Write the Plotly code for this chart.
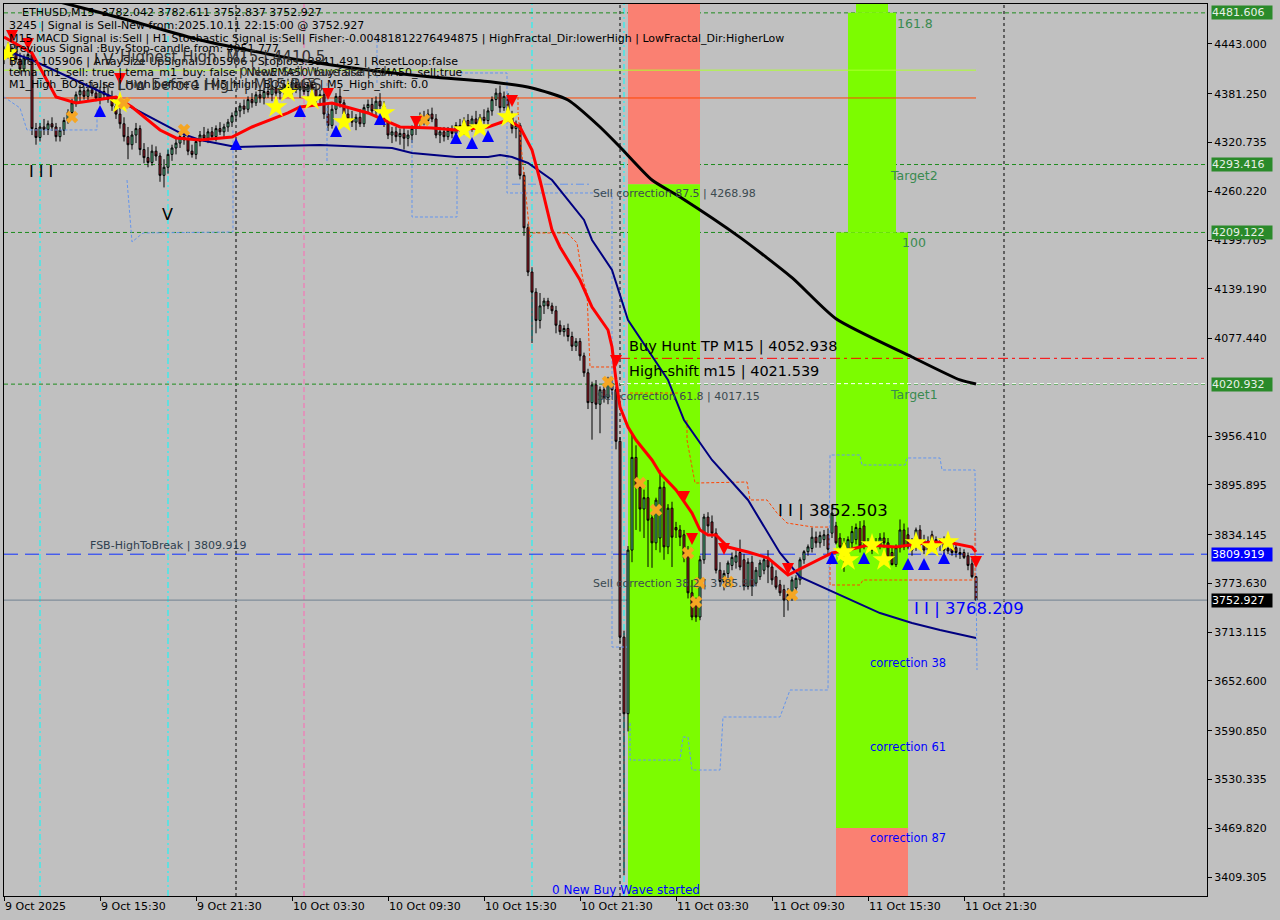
import pandas as pd
import plotly.graph_objects as go

# ---------------- data ----------------
T0 = pd.Timestamp("2025-10-09 09:30")   # first M15 bar on screen
STEP = pd.Timedelta(minutes=15)


def T(i):
    return (T0 + STEP * i).strftime("%Y-%m-%d %H:%M:%S")


opens = [4425, 4432, 4428, 4436, 4424, 4412, 4426, 4430, 4338, 4327,
         4340, 4337, 4344, 4340, 4328, 4336, 4348, 4358, 4370, 4380,
         4385, 4378, 4386, 4382, 4376, 4384, 4380, 4374, 4366, 4356,
         4344, 4328, 4318, 4330, 4338, 4312, 4302, 4296, 4310, 4304,
         4280, 4290, 4306, 4314, 4320, 4328, 4324, 4310, 4306, 4322,
         4330, 4326, 4334, 4328, 4338, 4334, 4340, 4346, 4354, 4360,
         4366, 4362, 4374, 4370, 4380, 4376, 4384, 4380, 4388, 4382,
         4386, 4392, 4388, 4394, 4386, 4390, 4384, 4392, 4386, 4376,
         4380, 4356, 4342, 4362, 4378, 4370, 4356, 4350, 4346, 4352,
         4344, 4364, 4368, 4360, 4372, 4366, 4346, 4330, 4334, 4328,
         4332, 4326, 4330, 4338, 4344, 4352, 4348, 4356, 4350, 4330,
         4334, 4328, 4336, 4332, 4342, 4338, 4348, 4340, 4350, 4344,
         4352, 4348, 4360, 4374, 4382, 4364, 4378, 4356, 4338, 4342,
         4280, 4215, 4160, 4135, 4100, 4118, 4124, 4118, 4112, 4094,
         4086, 4090, 4080, 4068, 4074, 4056, 4035, 3998, 4020, 3996,
         4014, 4004, 4022, 4014, 3950, 3707, 3612, 3815, 3930, 3893,
         3866, 3880, 3855, 3824, 3830, 3893, 3819, 3867, 3843, 3840,
         3834, 3813, 3762, 3748, 3732, 3803, 3856, 3850, 3836, 3790,
         3776, 3786, 3796, 3800, 3812, 3803, 3770, 3800, 3774, 3782,
         3790, 3803, 3794, 3782, 3772, 3766, 3753, 3760, 3768, 3778,
         3803, 3813, 3817, 3831, 3824, 3828, 3834, 3836, 3845, 3830,
         3824, 3810, 3824, 3828, 3842, 3845, 3824, 3826, 3822, 3821,
         3830, 3824, 3812, 3797, 3818, 3840, 3834, 3815, 3820, 3840,
         3828, 3826, 3834, 3818, 3822, 3826, 3817, 3821, 3818, 3812,
         3812, 3808, 3798, 3782.042]
highs = [4440, 4445, 4440, 4446, 4432, 4430, 4438, 4434, 4345, 4345,
         4350, 4348, 4352, 4345, 4340, 4352, 4362, 4375, 4384, 4392,
         4390, 4390, 4395, 4390, 4390, 4396, 4392, 4385, 4372, 4364,
         4352, 4340, 4335, 4345, 4342, 4320, 4315, 4318, 4316, 4308,
         4300, 4312, 4318, 4326, 4332, 4336, 4330, 4318, 4326, 4335,
         4340, 4338, 4340, 4342, 4346, 4344, 4350, 4358, 4364, 4370,
         4374, 4378, 4382, 4384, 4390, 4388, 4394, 4392, 4396, 4392,
         4398, 4400, 4398, 4400, 4396, 4398, 4395, 4398, 4392, 4386,
         4386, 4370, 4368, 4382, 4388, 4374, 4366, 4360, 4356, 4362,
         4368, 4374, 4376, 4378, 4382, 4372, 4352, 4340, 4340, 4338,
         4340, 4336, 4342, 4350, 4358, 4360, 4362, 4364, 4356, 4340,
         4340, 4340, 4342, 4346, 4350, 4352, 4356, 4354, 4360, 4356,
         4362, 4364, 4378, 4388, 4391.46, 4384, 4382, 4360, 4348, 4345,
         4284, 4220, 4166, 4140, 4134, 4128, 4128, 4122, 4118, 4100,
         4094, 4096, 4086, 4078, 4078, 4060, 4040, 4024, 4026, 4018,
         4022, 4030, 4030, 4018, 3955, 3715, 3820, 3960, 3945, 3900,
         3890, 3902, 3862, 3880, 3914, 3900, 3872, 3875, 3850, 3846,
         3840, 3820, 3778, 3756, 3808, 3860, 3862, 3858, 3842, 3800,
         3790, 3802, 3812, 3815, 3828, 3810, 3805, 3808, 3794, 3803,
         3808, 3815, 3800, 3790, 3778, 3772, 3768, 3782, 3784, 3806,
         3815, 3822, 3843, 3838, 3838, 3840, 3842, 3871, 3850, 3836,
         3830, 3832, 3845, 3848, 3851, 3852, 3830, 3832, 3830, 3836,
         3837, 3830, 3818, 3822, 3853, 3848, 3843, 3830, 3843, 3846,
         3834, 3832, 3839, 3832, 3830, 3832, 3824, 3826, 3822, 3818,
         3816, 3812, 3804, 3782.611]
lows = [4418, 4425, 4415, 4420, 4405, 4408, 4418, 4330, 4318, 4322,
        4330, 4330, 4335, 4322, 4322, 4330, 4344, 4354, 4365, 4372,
        4374, 4372, 4378, 4372, 4368, 4375, 4370, 4360, 4350, 4338,
        4322, 4300, 4312, 4320, 4305, 4295, 4290, 4292, 4298, 4272,
        4265, 4282, 4298, 4306, 4314, 4318, 4305, 4302, 4300, 4316,
        4322, 4320, 4324, 4322, 4330, 4326, 4334, 4340, 4348, 4352,
        4356, 4358, 4364, 4366, 4370, 4368, 4376, 4372, 4378, 4374,
        4380, 4384, 4380, 4382, 4376, 4380, 4376, 4382, 4370, 4366,
        4350, 4335, 4338, 4356, 4364, 4350, 4345, 4340, 4336, 4340,
        4340, 4356, 4356, 4354, 4362, 4340, 4325, 4320, 4322, 4318,
        4312, 4316, 4320, 4330, 4338, 4342, 4344, 4346, 4326, 4320,
        4322, 4324, 4326, 4328, 4334, 4330, 4336, 4334, 4340, 4338,
        4344, 4342, 4354, 4366, 4358, 4360, 4350, 4332, 4326, 4275,
        4205, 4155, 4072, 4084, 4090, 4108, 4114, 4108, 4084, 4082,
        4080, 4074, 4062, 4062, 4050, 4030, 3990, 3952, 3990, 3960,
        3998, 3996, 4008, 3940, 3700, 3411.58, 3590, 3800, 3840, 3838,
        3830, 3794, 3793, 3815, 3812, 3803, 3810, 3794, 3830, 3820,
        3800, 3755, 3728, 3726, 3728, 3798, 3836, 3830, 3786, 3770,
        3765, 3780, 3790, 3792, 3790, 3765, 3766, 3758, 3770, 3778,
        3785, 3774, 3772, 3766, 3758, 3732, 3740, 3752, 3762, 3772,
        3798, 3808, 3812, 3818, 3818, 3820, 3808, 3830, 3822, 3812,
        3788, 3804, 3818, 3822, 3812, 3816, 3814, 3810, 3814, 3816,
        3818, 3804, 3796, 3794, 3812, 3815, 3816, 3808, 3814, 3818,
        3810, 3812, 3814, 3812, 3814, 3810, 3810, 3808, 3806, 3804,
        3804, 3790, 3780, 3752.837]
closes = [4432, 4428, 4436, 4424, 4412, 4426, 4430, 4338, 4327, 4340,
          4337, 4344, 4340, 4328, 4336, 4348, 4358, 4370, 4380, 4385,
          4378, 4386, 4382, 4376, 4384, 4380, 4374, 4366, 4356, 4344,
          4328, 4318, 4330, 4338, 4312, 4302, 4296, 4310, 4304, 4280,
          4290, 4306, 4314, 4320, 4328, 4324, 4310, 4306, 4322, 4330,
          4326, 4334, 4328, 4338, 4334, 4340, 4346, 4354, 4360, 4366,
          4362, 4374, 4370, 4380, 4376, 4384, 4380, 4388, 4382, 4386,
          4392, 4388, 4394, 4386, 4390, 4384, 4392, 4386, 4376, 4380,
          4356, 4342, 4362, 4378, 4370, 4356, 4350, 4346, 4352, 4344,
          4364, 4368, 4360, 4372, 4366, 4346, 4330, 4334, 4328, 4332,
          4326, 4330, 4338, 4344, 4352, 4348, 4356, 4350, 4330, 4334,
          4328, 4336, 4332, 4342, 4338, 4348, 4340, 4350, 4344, 4352,
          4348, 4360, 4374, 4382, 4364, 4378, 4356, 4338, 4342, 4280,
          4215, 4160, 4135, 4100, 4118, 4124, 4118, 4112, 4094, 4086,
          4090, 4080, 4068, 4074, 4056, 4035, 3998, 4020, 3996, 4014,
          4004, 4022, 4014, 3950, 3707, 3612, 3815, 3930, 3893, 3866,
          3880, 3852, 3824, 3877, 3893, 3819, 3867, 3831, 3840, 3831,
          3806, 3762, 3732, 3732, 3803, 3856, 3845, 3836, 3790, 3776,
          3786, 3799, 3806, 3808, 3794, 3770, 3800, 3770, 3790, 3799,
          3803, 3794, 3778, 3769, 3762, 3753, 3760, 3778, 3780, 3803,
          3813, 3819, 3831, 3824, 3833, 3834, 3816, 3861, 3824, 3819,
          3803, 3828, 3838, 3843, 3820, 3824, 3820, 3815, 3819, 3830,
          3824, 3806, 3797, 3818, 3840, 3819, 3819, 3827, 3840, 3824,
          3815, 3815, 3819, 3828, 3826, 3815, 3814, 3812, 3812, 3810,
          3806, 3796, 3782.04, 3752.927]

# moving averages read at sample bars (bar number, price)
ema200_bar = [0, 12, 31, 49, 74, 91, 107, 122, 132, 141, 149, 154, 162, 169, 184, 197, 208, 227, 239, 243]
ema200_val = [4513.7, 4497.6, 4472.8, 4448.0, 4423.1, 4410.7, 4402.0, 4395.8, 4388.4, 4373.5,
              4340.0, 4315.2, 4274.2, 4253.1, 4203.0, 4153.0, 4102.0, 4054.6, 4026.1, 4021.1]
ema100_bar = [0, 7, 27, 44, 49, 58, 79, 97, 102, 113, 121, 124, 127, 131, 137, 145, 147, 152,
              156, 166, 170, 177, 186, 194, 199, 208, 219, 227, 234, 243]
ema100_val = [4435.6, 4423.1, 4377.2, 4332.6, 4323.9, 4315.2, 4317.7, 4313.9, 4307.7, 4302.8,
              4302.8, 4305.3, 4302.8, 4295.3, 4274.2, 4224.6, 4199.8, 4162.6, 4100.5, 4026.1,
              3976.4, 3926.8, 3877.2, 3811.4, 3781.6, 3761.8, 3736.9, 3724.5, 3715.8, 3705.9]
fast_bar = [0, 7, 13, 18, 23, 28, 32, 39, 43, 49, 57, 62, 71, 74, 82, 91, 99, 107, 113, 121,
            126, 129, 132, 134, 137, 139, 144, 147, 151, 152, 153, 154, 156, 158, 162, 164, 168,
            172, 174, 176, 178, 181, 186, 191, 196, 202, 207, 211, 216, 223, 227, 232, 237, 242, 243]
fast_val = [4451.7, 4431.8, 4377.2, 4369.8, 4373.5, 4377.2, 4364.8, 4336.3, 4326.4, 4323.9,
            4327.6, 4340.0, 4357.4, 4364.8, 4369.8, 4357.4, 4340.0, 4338.8, 4336.3, 4340.0,
            4348.7, 4340.0, 4311.5, 4274.2, 4212.2, 4191.1, 4150.1, 4116.6, 4088.1, 4067.0,
            4026.1, 3992.6, 3967.7, 3951.6, 3926.8, 3910.7, 3889.6, 3861.0, 3839.9, 3833.7,
            3833.7, 3818.8, 3812.6, 3805.2, 3784.1, 3799.0, 3811.4, 3815.1, 3821.3, 3818.8,
            3821.3, 3825.0, 3823.8, 3818.8, 3812.6]

# channel envelopes (bar number, price); None = gap
blue_env_bar = [0, 4, 5.75, 23.25, 23.25, None, 30.75, 32, 34.75, 57.25, 57.25, None,
                80.75, 80.75, None, 93.25, 93.25, None, 102, 102, 113.25, 113.25, None,
                114, 125.75, 125.75, 152, 152, 155.75, None,
                156.5, 156.5, 169, 169.75, 171, 172, 179, 179.75, 194, 196.5, 206, 206.5,
                214, 214.5, 225.25, 225.75, 234, 234.5, 242.75, 243.25]
blue_env_val = [4377.2, 4363.6, 4336.3, 4336.3, 4363.6, None, 4274.2, 4197.3, 4208.5, 4209.7, 4336.3, None,
                4394.6, 4295.3, None, 4448.0, 4394.6, None, 4323.9, 4228.3, 4228.3, 4290.4, None,
                4407.0, 4407.0, 4258.1, 4258.1, 3694.7, 3694.7, None,
                3600.4, 3554.5, 3554.5, 3583.0, 3583.0, 3542.1, 3542.1, 3607.9, 3607.9, 3641.4, 3641.4, 3933.0,
                3933.0, 3920.6, 3920.6, 3929.3, 3929.3, 3914.4, 3914.4, 3666.2]
orange_env_bar = [127.25, 128.5, 128.5, 131.5, 132.25, 140.75, 143.25, 144.75, 145.75, 146.5, 152.25, None,
                  156.5, 169, None,
                  170.75, 170.75, 172.75, 185.75, 186.5, 190.75, 193.25, 195.75, 202.25, 206.5, None,
                  206.5, 206.5, 214, 214.75, 242.75, 242.75]
orange_env_val = [4377.2, 4377.2, 4357.4, 4203.5, 4208.5, 4208.5, 4196.1, 4150.1, 4134.0, 4042.2, 4042.2, None,
                  4009.9, 4009.9, None,
                  3976.4, 3951.6, 3898.2, 3899.5, 3877.2, 3877.2, 3861.0, 3848.6, 3843.6, 3843.6, None,
                  3806.4, 3771.7, 3771.7, 3777.9, 3777.9, 3839.9]

# signal marks (bar number, price)
star_bar = [1, 29, 68, 71, 77, 85, 95, 115, 119, 126, 210, 211, 217, 220, 228, 232, 236]
star_val = [4431.8, 4369.8, 4364.8, 4383.4, 4373.5, 4346.2, 4357.4, 4336.3, 4338.8, 4352.4,
            3812.6, 3802.7, 3821.3, 3802.7, 3823.8, 3818.8, 3825.0]
cross_bar = [17, 30, 45, 105, 151, 159, 163, 171, 174, 173, 181, 197]
cross_val = [4352.4, 4369.8, 4336.3, 4348.7, 4023.6, 3898.2, 3864.7, 3811.4, 3774.2, 3750.6, 3775.4, 3759.2]
buy_bar = [24, 58, 74, 83, 94, 113, 117, 121, 207, 215, 226, 230, 235]
buy_val = [4367.3, 4326.4, 4367.3, 4342.5, 4357.4, 4333.8, 4327.6, 4336.3, 3812.6, 3812.6, 3805.2, 3805.2, 3812.6]
sell_bar = [2, 6, 29, 81, 103, 127, 153, 170, 172, 180, 196, 243]
sell_val = [4445.5, 4435.6, 4392.1, 4373.5, 4338.8, 4364.8, 4042.2, 3873.4, 3821.3, 3808.9, 3784.1, 3792.8]

# levels
target_levels = [4481.606, 4293.416, 4209.122, 4020.932]
highest_high = 4410.5
low_before_high = 4376.0
fsb_high = 3809.919
bid = 3752.927
buy_hunt_tp = 4052.938
high_shift = 4021.539
sell_corr_875 = 4268.98
sell_corr_618 = 4017.15
sell_corr_382 = 3785.90
wave_zero = 3411.58
ii_high = 3852.503
ii_low = 3768.209

# zones (time from, time to, price low, price high, colour name)
zones = [
    ("2025-10-11 00:30", "2025-10-11 05:00", 4268.98, 4600.0, "salmon"),
    ("2025-10-11 00:30", "2025-10-11 05:00", 3300.0, 4268.98, "green"),
    ("2025-10-11 14:45", "2025-10-11 16:45", 4481.606, 4600.0, "green"),
    ("2025-10-11 14:15", "2025-10-11 17:15", 4209.122, 4481.606, "green"),
    ("2025-10-11 13:30", "2025-10-11 18:00", 3470.1, 4209.122, "green"),
    ("2025-10-11 13:30", "2025-10-11 18:00", 3300.0, 3470.1, "salmon"),
]
cyan_times = ["2025-10-09 11:45", "2025-10-09 19:45", "2025-10-10 18:30", "2025-10-11 00:15"]
day_times = ["2025-10-10 00:00", "2025-10-11 00:00", "2025-10-12 00:00"]
pink_times = ["2025-10-10 04:15"]

y_ticks = [4443.000, 4381.250, 4320.735, 4260.220, 4199.705, 4139.190, 4077.440,
           3956.410, 3895.895, 3834.145, 3773.630, 3713.115, 3652.600, 3590.850, 3530.335,
           3469.820, 3409.305]
x_tick_bars = [0, 24, 48, 72, 96, 120, 144, 168, 192, 216, 240]
x_tick_text = ["9 Oct 2025", "9 Oct 15:30", "9 Oct 21:30", "10 Oct 03:30", "10 Oct 09:30",
               "10 Oct 15:30", "10 Oct 21:30", "11 Oct 03:30", "11 Oct 09:30", "11 Oct 15:30",
               "11 Oct 21:30"]

# ---------------- figure ----------------
W, H = 1280, 920
ML, MR, MT, MB = 4, 73, 4, 24
PW, PH = W - ML - MR, H - MT - MB
FONT = "DejaVu Sans"
BG = "#C0C0C0"
COLORS = {"green": "#7CFC00", "salmon": "#FA8072"}

times = [T(k) for k in range(len(closes))]
last_t = times[-1]

fig = go.Figure()

fig.add_trace(go.Candlestick(
    x=times, open=opens, high=highs, low=lows, close=closes,
    increasing=dict(line=dict(color="black", width=1), fillcolor="#5FD39A"),
    decreasing=dict(line=dict(color="black", width=1), fillcolor="#B0202E"),
    whiskerwidth=0, hoverinfo="skip", showlegend=False))


def xs(bars):
    return [None if b is None else T(b) for b in bars]


fig.add_trace(go.Scatter(x=xs(blue_env_bar), y=blue_env_val, mode="lines",
                         line=dict(color="#6495ED", width=1, dash="3px,2px"), connectgaps=False,
                         hoverinfo="skip", showlegend=False))
fig.add_trace(go.Scatter(x=xs(orange_env_bar), y=orange_env_val, mode="lines",
                         line=dict(color="#FF4500", width=1, dash="3px,2px"), connectgaps=False,
                         hoverinfo="skip", showlegend=False))
fig.add_trace(go.Scatter(x=xs(ema200_bar), y=ema200_val, mode="lines", line_shape="spline",
                         line=dict(color="black", width=3, smoothing=0.6), hoverinfo="skip", showlegend=False))
fig.add_trace(go.Scatter(x=xs(ema100_bar), y=ema100_val, mode="lines",
                         line=dict(color="#000080", width=2), hoverinfo="skip", showlegend=False))
fig.add_trace(go.Scatter(x=xs(fast_bar), y=fast_val, mode="lines",
                         line=dict(color="#FF0000", width=3), hoverinfo="skip", showlegend=False))

fig.add_trace(go.Scatter(x=xs(star_bar), y=star_val, mode="markers",
                         marker=dict(symbol="star", size=17, color="#FFFF00", line=dict(width=0)),
                         hoverinfo="skip", showlegend=False))
fig.add_trace(go.Scatter(x=xs(cross_bar), y=cross_val, mode="markers",
                         marker=dict(symbol="x", size=11, color="#F5A623", line=dict(width=0)),
                         hoverinfo="skip", showlegend=False))
fig.add_trace(go.Scatter(x=xs(buy_bar), y=buy_val, mode="markers",
                         marker=dict(symbol="arrow-up", size=12, color="#0000FF", line=dict(width=0)),
                         hoverinfo="skip", showlegend=False))
fig.add_trace(go.Scatter(x=xs(sell_bar), y=sell_val, mode="markers",
                         marker=dict(symbol="arrow-down", size=12, color="#FF0000", line=dict(width=0)),
                         hoverinfo="skip", showlegend=False))

shapes = []
for t_a, t_b, p_lo, p_hi, cname in zones:
    shapes.append(dict(type="rect", xref="x", yref="y", x0=t_a, x1=t_b, y0=p_lo, y1=p_hi,
                       fillcolor=COLORS[cname], line=dict(width=0), layer="below"))


def hline(p, color, dash, width=1, x0=None, x1=None):
    if x0 is None:
        d = dict(type="line", xref="paper", x0=0, x1=1, yref="y", y0=p, y1=p)
    else:
        d = dict(type="line", xref="x", x0=x0, x1=x1, yref="y", y0=p, y1=p)
    d["line"] = dict(color=color, width=width, dash=dash)
    d["layer"] = "below"
    shapes.append(d)


def vline(t, color, dash):
    shapes.append(dict(type="line", xref="x", x0=t, x1=t, yref="paper", y0=0, y1=1,
                       line=dict(color=color, width=1, dash=dash), layer="below"))


for t in cyan_times:
    vline(t, "#00FFFF", "6px,3px,2px,3px")
for t in day_times:
    vline(t, "#000000", "3px,3px")
for t in pink_times:
    vline(t, "#FF69B4", "5px,3px")

for p in target_levels:
    hline(p, "#1E8C1E", "4px,3px")
hline(highest_high, "#ADFF2F", "solid", 1, times[0], last_t)
hline(low_before_high, "#FF4500", "solid", 1, times[0], last_t)
hline(fsb_high, "#1030FF", "14px,7px")
hline(bid, "#708090", "solid")
hline(buy_hunt_tp, "#FF0000", "10px,4px,3px,4px", 1, "2025-10-11 00:00", T(301))
hline(high_shift, "#FFFFFF", "4px,3px", 1, "2025-10-11 00:00", T(301))
hline(sell_corr_875, "#6495ED", "8px,3px,2px,3px", 1, "2025-10-10 17:15", "2025-10-10 22:11")

annotations = []


def label(text, t, p, size, color, xanchor="left", yanchor="middle", yshift=0):
    annotations.append(dict(text=text, x=t, y=p, xref="x", yref="y", showarrow=False,
                            xanchor=xanchor, yanchor=yanchor, yshift=yshift,
                            font=dict(family=FONT, size=size, color=color)))


def ptext(text, x_px, y_px, size, color="black"):
    annotations.append(dict(text=text, x=(x_px - ML) / PW, y=(H - MB - y_px) / PH,
                            xref="paper", yref="paper", showarrow=False,
                            xanchor="left", yanchor="middle",
                            font=dict(family=FONT, size=size, color=color)))


# chart-object labels
label("Buy Hunt TP M15 | 4052.938", "2025-10-11 00:26", buy_hunt_tp, 14.5, "black", yanchor="bottom", yshift=1)
label("High-shift m15 | 4021.539", "2025-10-11 00:26", high_shift, 14.5, "black", yanchor="bottom", yshift=2)
label("Sell correction 87.5 | 4268.98", "2025-10-10 22:11", sell_corr_875, 11, "#3C4A50", yanchor="top", yshift=-1)
label("Sell correction 61.8 | 4017.15", "2025-10-10 22:26", sell_corr_618, 11, "#3C4A50", yanchor="top", yshift=-1)
label("Sell correction 38.2 | 3785.90", "2025-10-10 22:11", sell_corr_382, 11, "#3C4A50", yanchor="top", yshift=-1)
label("FSB-HighToBreak | 3809.919", "2025-10-09 14:45", fsb_high, 11, "#2F3F4F", yanchor="bottom", yshift=0)
label("I I | 3852.503", "2025-10-11 09:45", ii_high, 16.5, "black", yanchor="bottom", yshift=-2)
label("I I | 3768.209", "2025-10-11 18:15", ii_low, 16.5, "#0000FF", yanchor="top", yshift=-9)
label("0 New Buy Wave started", "2025-10-10 19:36", wave_zero, 12, "#0000FF", yanchor="top", yshift=-6)
label("161.8", "2025-10-11 17:10", target_levels[0], 12.5, "#3A8A50", yanchor="top", yshift=-1)
label("Target2", "2025-10-11 16:45", target_levels[1], 12.5, "#3A8A50", yanchor="top", yshift=-1)
label("100", "2025-10-11 17:30", target_levels[2], 12.5, "#3A8A50", yanchor="top", yshift=-1)
label("Target1", "2025-10-11 16:45", target_levels[3], 12.5, "#3A8A50", yanchor="top", yshift=-1)
label("correction 38", "2025-10-11 15:30", 3674.9, 11.5, "#0000FF")
label("correction 61", "2025-10-11 15:30", 3570.6, 11.5, "#0000FF")
label("correction 87", "2025-10-11 15:30", 3457.5, 11.5, "#0000FF")
label("I I I", "2025-10-09 10:56", 4284.2, 16, "black")
label("V", "2025-10-09 19:15", 4230.8, 16, "black")

# info panel (top-left)
ptext("ETHUSD,M15  3782.042 3782.611 3752.837 3752.927", 20, 12, 11)
ptext("3245 | Signal is Sell-New from:2025.10.11 22:15:00 @ 3752.927", 7, 25, 11)
ptext("M15 MACD Signal is:Sell | H1 Stochastic Signal is:Sell| Fisher:-0.00481812276494875 | "
      "HighFractal_Dir:lowerHigh | LowFractal_Dir:HigherLow", 7, 38, 11)
ptext("Previous Signal :Buy-Stop-candle from: 4051.777", 7, 49, 11)
ptext("Bars: 105906 | ArraySize UpSignal: 105906 | Stoploss:3841.491 | ResetLoop:false", 7, 61, 11)
ptext("tema_m1_sell: true | tema_m1_buy: false | NewEMA50_buy:false | EMA50_sell:true", 7, 73, 11)
ptext("M1_High_BOS:false | High before 1 | M5_High_BOS:false | M5_High_shift: 0.0", 7, 85, 11)
ptext("I V", 92, 60, 15, "#202020")
ptext("Highest High  M15 | 4410.5", 118, 57, 15, "#303030")
ptext("0 New Sell Wave started", 238, 72, 12, "#303030")
ptext("Low before High | M15 BOS", 115, 85, 15, "#303030")

# price tags on the right axis
for p, bgc, fc in [(target_levels[0], "#2A8A2A", "#E8F0E8"), (target_levels[1], "#2A8A2A", "#E8F0E8"),
                   (target_levels[2], "#2A8A2A", "#E8F0E8"), (target_levels[3], "#2A8A2A", "#E8F0E8"),
                   (fsb_high, "#0000FF", "#FFFFFF"), (bid, "#000000", "#FFFFFF")]:
    annotations.append(dict(text=f"{p:.3f}", x=1, y=p, xref="paper", yref="y", showarrow=False,
                            xanchor="left", yanchor="middle", xshift=4, width=60, align="left",
                            bgcolor=bgc, borderpad=0,
                            font=dict(family=FONT, size=11, color=fc)))

fig.update_layout(
    width=W, height=H,
    margin=dict(l=ML, r=MR, t=MT, b=MB, autoexpand=False),
    paper_bgcolor=BG, plot_bgcolor=BG,
    showlegend=False, hovermode=False,
    shapes=shapes, annotations=annotations,
    xaxis=dict(type="date", range=[T(0), T(300.75)], showgrid=False, zeroline=False,
               rangeslider=dict(visible=False), automargin=False,
               showline=True, linecolor="black", linewidth=1, mirror=True,
               tickvals=[T(b) for b in x_tick_bars], ticktext=x_tick_text,
               ticks="outside", ticklen=4, tickcolor="black",
               ticklabelposition="outside right",
               tickfont=dict(family=FONT, size=11, color="black")),
    yaxis=dict(side="right", range=[3385.8, 4492.6], showgrid=False, zeroline=False,
               automargin=False,
               showline=True, linecolor="black", linewidth=1, mirror=True,
               tickvals=y_ticks, ticktext=[f"{v:.3f}" for v in y_ticks],
               ticks="outside", ticklen=4, tickcolor="black",
               tickfont=dict(family=FONT, size=11, color="black")),
)

fig.write_html("out.html", config={"displayModeBar": False},
               post_script="document.body.style.margin='0px';")
